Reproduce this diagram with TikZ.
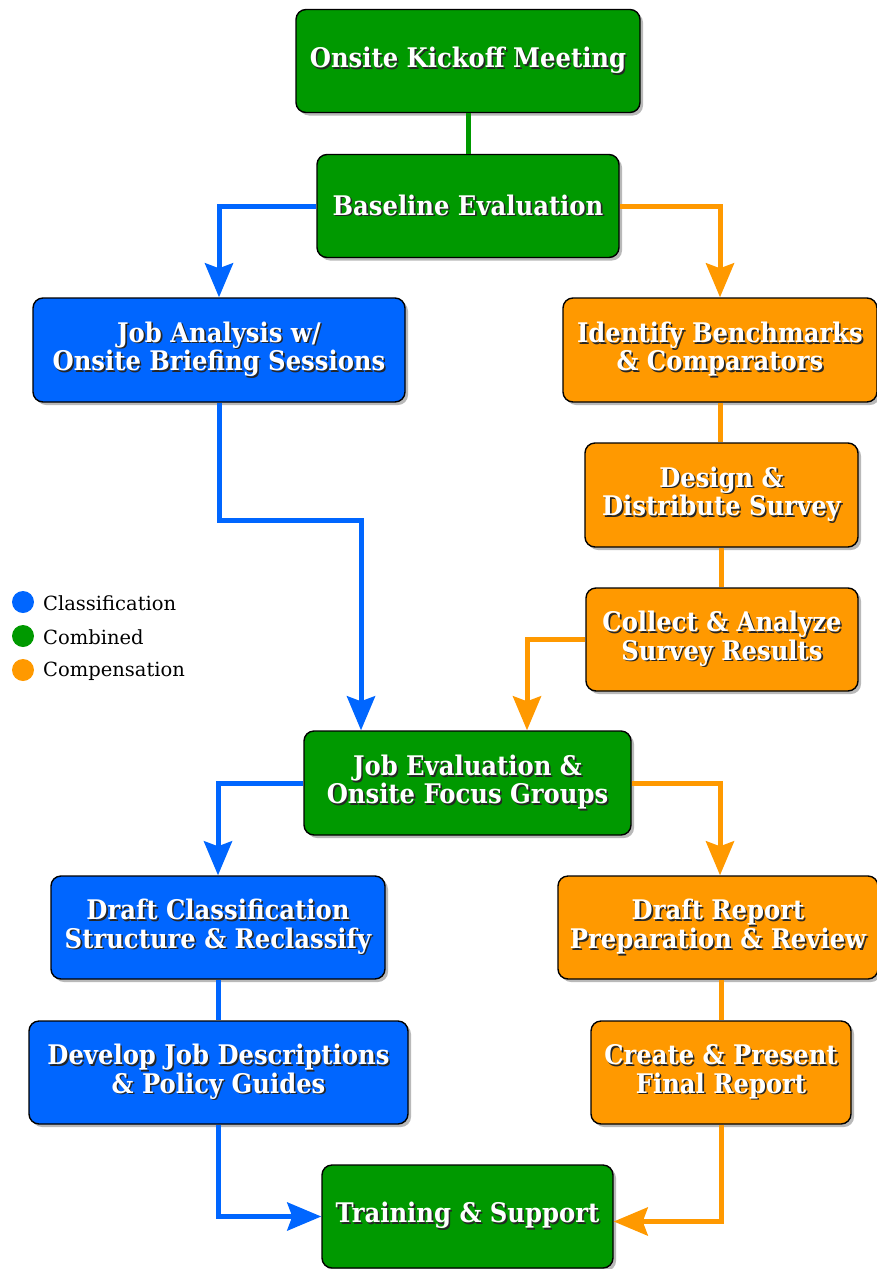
\documentclass[tikz,border=0pt]{standalone}
\usepackage{fontspec}
\setmainfont{DejaVu Serif}
\newfontfamily\boxfont{DejaVu Serif Condensed}
\usetikzlibrary{shadows,arrows.meta}
\definecolor{cgreen}{HTML}{009900}
\definecolor{cblue}{HTML}{0066FF}
\definecolor{corange}{HTML}{FF9900}
\newcommand\stx[1]{\leavevmode\rlap{\kern1.6pt\raisebox{-1.6pt}{\color{black!85}#1}}#1}
\tikzset{
  box/.style={draw=black, line width=1.4pt, rounded corners=10pt, text=white,
    font=\boxfont\bfseries\fontsize{27}{28.5}\selectfont, align=center, inner sep=0pt,
    drop shadow={shadow xshift=3pt, shadow yshift=-3pt, fill=black!55}},
  gbox/.style={box, fill=cgreen},
  bbox/.style={box, fill=cblue},
  obox/.style={box, fill=corange},
  conn/.style={line width=5pt},
  arr/.style={conn, -{Stealth[length=34pt,width=28pt,inset=5pt]}},
  legdot/.style={circle, minimum size=22pt, inner sep=0pt},
  legtxt/.style={anchor=west, inner sep=0pt, font=\fontsize{19.5}{22}\selectfont}
}
\begin{document}
\begin{tikzpicture}[x=1pt,y=-1pt]
\useasboundingbox (0,0) rectangle (876,1269);
\node[gbox, minimum width=344pt, minimum height=103pt] (kick) at (468,61) {\stx{Onsite Kickoff Meeting}};
\node[gbox, minimum width=302pt, minimum height=103pt] (base) at (468,206) {\stx{Baseline Evaluation}};
\node[bbox, minimum width=372pt, minimum height=104pt] (joba) at (219,350) {\stx{Job Analysis w/}\\\stx{Onsite Briefing Sessions}};
\node[obox, minimum width=314pt, minimum height=104pt] (ident) at (720,350) {\stx{Identify Benchmarks}\\\stx{\& Comparators}};
\node[obox, minimum width=273pt, minimum height=104pt] (design) at (721.5,495) {\stx{Design \&}\\\stx{Distribute Survey}};
\node[obox, minimum width=272pt, minimum height=103pt] (collect) at (722,639.5) {\stx{Collect \& Analyze}\\\stx{Survey Results}};
\node[gbox, minimum width=327pt, minimum height=104pt] (jobe) at (467.5,783) {\stx{Job Evaluation \&}\\\stx{Onsite Focus Groups}};
\node[bbox, minimum width=334pt, minimum height=103pt] (draftc) at (218,927.5) {\stx{Draft Classification}\\\stx{Structure \& Reclassify}};
\node[obox, minimum width=320pt, minimum height=103pt] (draftr) at (718,927.5) {\stx{Draft Report}\\\stx{Preparation \& Review}};
\node[bbox, minimum width=379pt, minimum height=103pt] (develop) at (218.5,1072.5) {\stx{Develop Job Descriptions}\\\stx{\& Policy Guides}};
\node[obox, minimum width=260pt, minimum height=103pt] (create) at (721,1072.5) {\stx{Create \& Present}\\\stx{Final Report}};
\node[gbox, minimum width=291pt, minimum height=103pt] (train) at (467.5,1216.5) {\stx{Training \& Support}};
% legend
\node[legdot, fill=cblue] (l1) at (23,602) {};
\node[legdot, fill=cgreen] (l2) at (23,636) {};
\node[legdot, fill=corange] (l3) at (23,670) {};
\node[legtxt] (t1) at (43,603) {Classification};
\node[legtxt] (t2) at (43,637) {Combined};
\node[legtxt] (t3) at (43,671) {Compensation};
% connectors
\draw[conn, cgreen] (kick.south) -- (base.north);
\draw[arr, cblue] (base.west) -| (joba.north);
\draw[arr, corange] (base.east) -| (ident.north);
\draw[arr, cblue] (joba.south) -- ++(0,118) -| ([xshift=-106.5pt]jobe.north);
\draw[conn, corange] (ident.south) -- (ident.south |- design.north);
\draw[conn, corange] (design.south) -- (design.south |- collect.north);
\draw[arr, corange] (collect.west) -| ([xshift=59.5pt]jobe.north);
\draw[arr, cblue] (jobe.west) -| (draftc.north);
\draw[arr, corange] (jobe.east) -| ([xshift=2pt]draftr.north);
\draw[conn, cblue] (draftc.south) -- (draftc.south |- develop.north);
\draw[conn, corange] (create.north) -- (create.north |- draftr.south);
\draw[arr, cblue] (develop.south) |- (train.west);
\draw[arr, corange] (create.south) |- ([yshift=-5pt]train.east);
\end{tikzpicture}
\end{document}
